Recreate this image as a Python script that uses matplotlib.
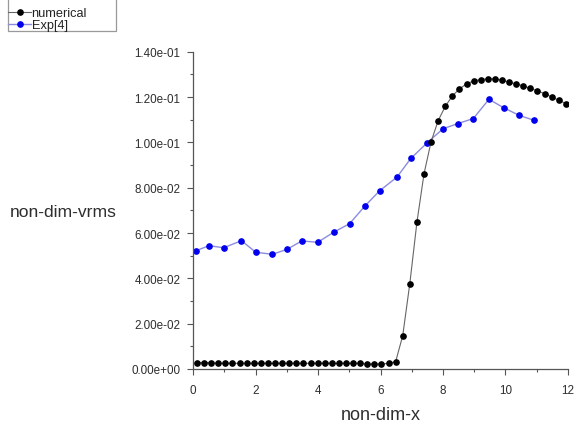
import matplotlib
matplotlib.use("Agg")
import matplotlib.pyplot as plt
from matplotlib.patches import Rectangle
from matplotlib.ticker import MultipleLocator, FormatStrFormatter

# numerical solution (black) along the centreline
num_x = [0.128, 0.355, 0.582, 0.809, 1.036, 1.263, 1.490, 1.717, 1.944, 2.171,
         2.398, 2.625, 2.852, 3.079, 3.306, 3.533, 3.760, 3.987, 4.214, 4.441,
         4.668, 4.895, 5.122, 5.349, 5.576, 5.803, 6.030, 6.257, 6.484, 6.711,
         6.938, 7.165, 7.392, 7.619, 7.846, 8.073, 8.300, 8.527, 8.754, 8.981,
         9.208, 9.435, 9.662, 9.889, 10.116, 10.343, 10.570, 10.797, 11.024, 11.251,
         11.478, 11.705, 11.932]
num_y = [0.0028, 0.0028, 0.0028, 0.0025, 0.0025, 0.0025, 0.0025, 0.0025, 0.0025, 0.0025,
         0.0025, 0.0025, 0.0025, 0.0025, 0.0025, 0.0025, 0.0025, 0.0025, 0.0025, 0.0025,
         0.0025, 0.0025, 0.0025, 0.0025, 0.0022, 0.0022, 0.0022, 0.0025, 0.0032, 0.0147,
         0.0377, 0.0647, 0.0861, 0.1003, 0.1096, 0.1159, 0.1205, 0.1236, 0.1258, 0.1271,
         0.1277, 0.1280, 0.1280, 0.1274, 0.1266, 0.1258, 0.1249, 0.1238, 0.1227, 0.1215,
         0.1200, 0.1186, 0.1171]

# experiment, ref [4] (blue)
exp_x = [0.08, 0.51, 0.98, 1.55, 2.01, 2.54, 3.01, 3.48, 3.99, 4.52,
         5.01, 5.50, 5.97, 6.53, 6.97, 7.50, 8.00, 8.48, 8.97, 9.47,
         9.95, 10.44, 10.92]
exp_y = [0.0521, 0.0544, 0.0535, 0.0566, 0.0515, 0.0506, 0.0528, 0.0565, 0.0559, 0.0605,
         0.0641, 0.0719, 0.0786, 0.0847, 0.0929, 0.0999, 0.1060, 0.1083, 0.1105, 0.1190,
         0.1152, 0.1119, 0.1097]

plt.rcParams["font.family"] = ["Liberation Sans", "DejaVu Sans"]
TXT = "#2e2e2e"
AX = "#555555"

fig = plt.figure(figsize=(5.76, 4.27), dpi=100)
ax = fig.add_axes([0.3351, 0.1335, 0.651, 0.7431])

ax.plot(num_x, num_y, color="#666666", lw=0.8, marker="o", ms=3.8,
        mfc="black", mec="black", label="numerical", zorder=3)
ax.plot(exp_x, exp_y, color="#8c8ce0", lw=1.0, marker="o", ms=3.8,
        mfc="#0000ee", mec="#0000ee", label="Exp[4]", zorder=2)

ax.set_xlim(0, 12)
ax.set_ylim(0, 0.14)
ax.xaxis.set_major_locator(MultipleLocator(2))
ax.xaxis.set_minor_locator(MultipleLocator(1))
ax.yaxis.set_major_locator(MultipleLocator(0.02))
ax.yaxis.set_minor_locator(MultipleLocator(0.01))
ax.yaxis.set_major_formatter(FormatStrFormatter("%.2e"))

for s in ["top", "right"]:
    ax.spines[s].set_visible(False)
for s in ["left", "bottom"]:
    ax.spines[s].set_color(AX)
    ax.spines[s].set_linewidth(0.9)

ax.tick_params(which="major", length=4, width=0.8, color=AX, labelsize=8.4,
               labelcolor=TXT, pad=5)
ax.tick_params(which="minor", length=2.5, width=0.8, color=AX)
ax.tick_params(axis="x", pad=7)

ax.set_xlabel("non-dim-x", fontsize=13, color=TXT, labelpad=7)
fig.text(10 / 576, 1 - 213 / 427, "non-dim-vrms", fontsize=12.6, color=TXT,
         ha="left", va="center")

# legend frame runs off the top of the page, so draw it as a plain box
box = Rectangle((8 / 576, 1 - 32 / 427), 108 / 576, 45 / 427,
                transform=fig.transFigure, facecolor="white",
                edgecolor="#999999", lw=0.9, zorder=4)
fig.patches.append(box)

leg = fig.legend(loc="lower left", bbox_to_anchor=(8 / 576, 1 - 32 / 427),
                 fontsize=9.2, labelspacing=0.0, handlelength=1.8,
                 handletextpad=0.05, borderpad=0.0, borderaxespad=0,
                 frameon=False)
leg.set_zorder(5)
for t in leg.get_texts():
    t.set_color("#222222")

fig.savefig("out.png", dpi=100)
